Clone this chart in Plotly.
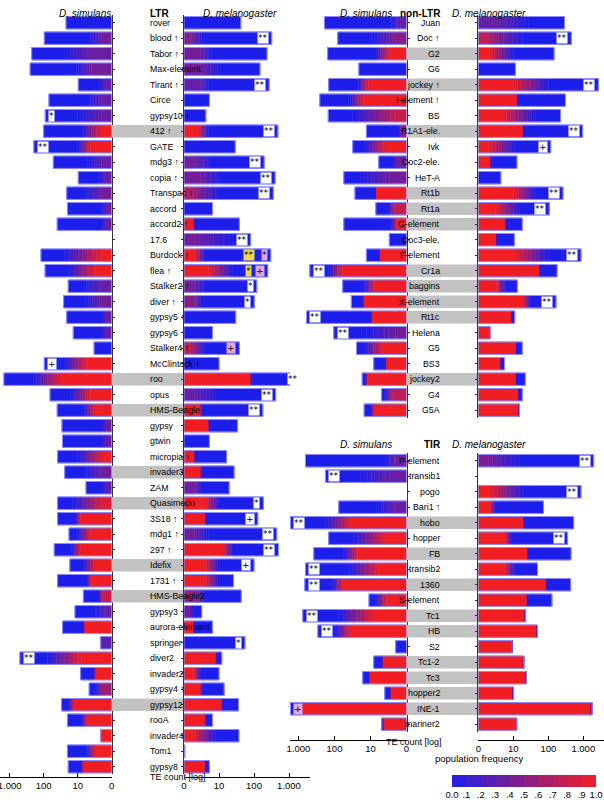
import math
import plotly.graph_objects as go

# ---------------- data ----------------
# each bar: (total count, colour frequency next to the axis, end of that colour, count where pure blue starts)
LTR_NAMES = ["rover","blood ↑","Tabor ↑","Max-element","Tirant ↑","Circe","gypsy10 ↑","412 ↑","GATE","mdg3 ↑",
             "copia ↑","Transpac ↑","accord","accord2 ↑","17.6","Burdock ↑","flea ↑","Stalker2 ↑","diver ↑","gypsy5 ↑",
             "gypsy6","Stalker4 ↑","McClintock ↑","roo","opus","HMS-Beagle","gypsy","gtwin","micropia ↑","invader3",
             "ZAM","Quasimodo","3S18 ↑","mdg1 ↑","297 ↑","Idefix","1731 ↑","HMS-Beagle2","gypsy3","aurora-element",
             "springer","diver2","invader2","gypsy4 ↑","gypsy12","rooA","invader4","Tom1","gypsy8"]
LTR_GRAY = ["412 ↑","roo","HMS-Beagle","invader3","Quasimodo","Idefix","HMS-Beagle2","gypsy12"]
LTR_SIM = [(22,0,1,1),(96,.4,2,4.6),(225,.35,5,25),(250,.4,4,11),(9.6,.35,1.5,2.5),(70,.35,2,4.6),(90,.35,2,10),
           (100,1,2,8),(194,1,4.3,10),(52,.35,2,5),(9.6,.35,1.5,2.5),(21,.4,2,6.5),(20,.4,1.3,2),(40,.4,1.3,2),
           (0,0,1,1),(120,1,2,25),(91,1,3,20),(19,.35,2,6.5),(26,.4,2,6.5),(21,.35,1.5,2),(13.5,.35,1.5,2),
           (3.3,0,1,1),(96,1,5.2,25),(1480,1,30,205),(65,1,4.3,16),(40,1,3.1,7),(29,.35,1.5,2),(28,.35,1.5,2),
           (39,1,1.8,10),(24,.4,2,6),(5.7,.3,1.5,2),(39,.9,2,14),(39,1,8.5,12),(18,1,4.3,10),(49,1,8.5,15),
           (17,1,3.1,7),(39,1,4.3,5.5),(6.8,.8,2,2.5),(12,.35,1.5,3),(28,1,6.5,7),(2.1,.3,2.1,2.1),(500,1,7.6,76),
           (8.2,1,3.1,3.5),(4.6,.6,2,3),(30,1,13,19),(20,1,5.2,8),(2.1,1,2.1,2.1),(20,1,3.1,5.5),(19,1,6.8,8.5)]
LTR_MEL = [(42,0,1,1),(320,.5,1.5,3.5),(235,.4,3,6),(148,.4,3,10.7),(270,.35,3,5),(5.3,0,1,1),(4.2,0,1,1),
           (480,1,2.5,4.9),(29,0,1,1),(195,.4,2,6.3),(400,.4,3,10.7),(355,.7,1.5,10),(6.5,0,1,1),(38,1,1.9,2.1),
           (80,.4,2,25),(300,1,2,4),(246,1,4.9,25),(120,.4,2,4),(102,.5,2,3.5),(30,0,1,1),(6.5,0,1,1),
           (38,.8,1.5,4),(10,0,1,1),(2300,1,77,90),(415,.35,2,10),(178,1,2.9,3.5),(34,1,4.9,5.5),(5.3,0,1,1),
           (16.5,1,1.9,2.2),(27,1,2.9,3.5),(19.5,.4,2,3.5),(185,1,4,10),(128,1,4,4.5),(445,.4,2,5),(500,1,13,25),
           (100,1,4,10),(26,1,4,10),(43,.6,2,4),(3.2,.35,1.5,2),(6.5,1,1.9,2),(55,0,1,1),(12,1,8.2,9),
           (10,1,1.9,3),(14,1,2.9,3.5),(36,1,12,13),(6.5,1,4,4.5),(37,1,1.8,8),(1.05,0,1,1),(5.3,1,4,4.3)]
LTR_SIM_MARK = {"gypsy10 ↑":[("*","w")],"GATE":[("**","w")],"McClintock ↑":[("+","w")],"diver2":[("**","w")]}
LTR_MEL_MARK = {"blood ↑":[("**","w")],"Tirant ↑":[("**","w")],"412 ↑":[("**","w")],"mdg3 ↑":[("**","w")],
                "copia ↑":[("**","w")],"Transpac ↑":[("**","w")],"17.6":[("**","w")],
                "Burdock ↑":[("*","p"),("**","y")],"flea ↑":[("+","p"),("*","y")],"Stalker2 ↑":[("*","w")],
                "diver ↑":[("*","w")],"Stalker4 ↑":[("+","p")],"roo":[("**","w")],"opus":[("**","w")],
                "HMS-Beagle":[("**","w")],"Quasimodo":[("*","w")],"3S18 ↑":[("+","w")],"mdg1 ↑":[("**","w")],
                "297 ↑":[("**","w")],"Idefix":[("+","w")],"springer":[("*","w")]}

NON_NAMES = ["Juan","Doc ↑","G2","G6","jockey ↑","I-element ↑","BS","R1A1-ele.","Ivk","Doc2-ele.","HeT-A","Rt1b",
             "Rt1a","G-element","Doc3-ele.","F-element","Cr1a","baggins","X-element","Rt1c","Helena","G5","BS3",
             "jockey2","G4","G5A"]
NON_GRAY = ["G2","jockey ↑","R1A1-ele.","Rt1b","Rt1a","G-element","Cr1a","baggins","X-element","Rt1c","jockey2"]
NON_SIM = [(190,.35,1.5,2.8),(81,.5,2,9.4),(155,1,2.8,8),(21,0,1,1),(145,1,11.6,23),(256,1,15.3,40),(149,.8,2,31),
           (13,.5,1.5,1.8),(31,1,3.7,15),(5.9,.35,2,2.5),(55,.4,3,19),(27,1,7.3,7.5),(7.1,.8,2,3.5),(55,1,1.8,2.8),
           (3,0,1,1),(13,1,5.6,6),(485,1,61,145),(59,1,7.7,15),(34,1,15.5,17),(600,1,9.4,10),(105,.4,2,13),
           (24.5,1,4.6,15),(8.1,1,3.7,4),(17,1,13,14),(4.9,.75,2.5,4),(15,1,8.1,10)]
NON_MEL = [(290,.35,4,27),(455,.8,1.5,18),(146,1,2.1,10),(11.5,0,1,1),(2700,1,10,100),(308,1,12.7,14),
           (224,1,4.8,43),(955,1,19,20),(117,1,2,11),(12.7,1,2.1,2.5),(4.4,0,1,1),(263,1,10,43),(107,1,3.1,15),
           (18,1,5.9,6.5),(10.7,1,3.3,3.5),(860,1,11,100),(178,1,56,60),(13,1,3.3,6),(166,1,19,31),(11,1,8.7,9.5),
           (2.2,1,2.2,2.2),(18,1,12.2,12.5),(5.6,1,4.4,4.6),(22,1,12.2,12.5),(18,1,14,15),(15,1,14.5,15)]
NON_SIM_MARK = {"Cr1a":[("**","w")],"Rt1c":[("**","w")],"Helena":[("**","w")]}
NON_MEL_MARK = {"Doc ↑":[("**","w")],"jockey ↑":[("**","w")],"R1A1-ele.":[("**","w")],"Ivk":[("+","w")],
                "Rt1b":[("**","w")],"Rt1a":[("**","w")],"F-element":[("**","w")],"X-element":[("**","w")]}

TIR_NAMES = ["P-element","transib1","pogo","Bari1 ↑","hobo","hopper","FB","transib2","1360","S-element","Tc1","HB",
             "S2","Tc1-2","Tc3","hopper2","INE-1","mariner2"]
TIR_GRAY = ["hobo","FB","1360","Tc1","HB","Tc1-2","Tc3","hopper2","INE-1"]
TIR_SIM = [(640,.4,2,3.8),(178,.35,3,19),(0,0,1,1),(76,.35,2,6.8),(1670,1,34,178),(145,1,3.8,30),(375,1,22.5,55),
           (640,1,5.6,40),(665,1,61,112),(11,1,3.6,7.3),(760,1,8.1,76),(290,1,36,94),(2,0,1,1),(8.1,1,4.6,5),
           (16.4,1,10.7,11.5),(4,1,2.8,3),(1670,1,870,1000),(4.9,1,4.2,4.9)]
TIR_MEL = [(1970,.45,2,15),(0,0,1,1),(860,1,2,20),(73,1,2.1,3.2),(530,1,20,21),(355,1,5.9,9),(445,1,25.6,27),
           (49,1,5.6,11),(435,1,86,95),(127,1,23.6,27),(22.5,1,21,22.5),(49,1,47,49),(9.2,1,9,9.2),(20,1,19,20),
           (23.6,1,23,23.6),(10.2,1,9.3,10.2),(1780,1,1600,1780),(12.7,1,12.7,12.7)]
TIR_SIM_MARK = {"transib1":[("**","w")],"hobo":[("**","w")],"transib2":[("**","w")],"1360":[("**","w")],
                "Tc1":[("**","w")],"HB":[("**","w")],"INE-1":[("+","p")]}
TIR_MEL_MARK = {"P-element":[("**","w")],"pogo":[("**","w")],"hopper":[("**","w")]}

TICK_VALS = [1, 10, 100, 1000]
TICK_TEXT = ["0", "10", "100", "1.000"]
FREQ_BINS = [0.05, 0.15, 0.25, 0.35, 0.45, 0.55, 0.65, 0.75, 0.85, 0.95]
FREQ_TICKS = [0, .1, .2, .3, .4, .5, .6, .7, .8, .9, 1.0]
FREQ_TEXT = ["0.0", ".1", ".2", ".3", ".4", ".5", ".6", ".7", ".8", ".9", "1.0"]

# ---------------- styling ----------------
W, H = 604, 800
BLUE = (30, 30, 235)
RED = (240, 30, 35)
FONT = "Liberation Sans"
MARK_BG = {"w": "white", "y": "#ecd84a", "p": "#e2a6e6"}
ROW = 15.5


def col(f):
    c = [round(BLUE[i] + f * (RED[i] - BLUE[i])) for i in range(3)]
    return "rgb(%d,%d,%d)" % tuple(c)


def segments(bars):
    ys, bases, lens, cols = [], [], [], []
    N = 8
    for i, (t, f0, r, g) in enumerate(bars):
        if t <= 1:
            continue
        pts = [(1.0, min(r, t), f0)]
        if g > r:
            for k in range(N):
                a = r * (g / r) ** (k / N)
                b = r * (g / r) ** ((k + 1) / N)
                pts.append((a, b, f0 * (1 - (k + 0.5) / N)))
        pts.append((g, t, 0.0))
        for a, b, f in pts:
            a, b = max(a, 1.0), min(b, t)
            if b > a:
                ys.append(i); bases.append(a); lens.append(b - a); cols.append(col(f))
    return ys, bases, lens, cols


fig = go.Figure()
layout = {}
annotations = []
ax_n = [0]


def new_axis():
    ax_n[0] += 1
    return ax_n[0]


def aname(kind, n):
    return kind + ("axis" if n == 1 else "axis%d" % n)


def ref(kind, n):
    return kind + ("" if n == 1 else str(n))


def panel(names, gray, sim, mel, sim_mark, mel_mark, first_px, sim_px, lab_px, mel_px,
          sim_dec, mel_dec, header, axis_px, count_label_px):
    n = len(names)
    top = first_px - ROW / 2
    bot = first_px + (n - 1) * ROW + ROW / 2
    ydom = [1 - bot / H, 1 - top / H]
    yr = [n - 0.5, -0.5]
    xs, xl, xm = new_axis(), new_axis(), new_axis()
    ys_, ym_ = xs, xm
    sim_range = [(sim_px[1] - sim_px[0]) / sim_dec, 0]
    mel_range = [0, (mel_px[1] - mel_px[0]) / mel_dec]
    show_ticks = axis_px is not None
    common_x = dict(type="log", showgrid=False, zeroline=False, fixedrange=True, automargin=False,
                    tickvals=TICK_VALS, ticktext=TICK_TEXT, showticklabels=show_ticks,
                    showline=show_ticks, linecolor="black", linewidth=1, ticklabeloverflow="allow",
                    ticks="inside" if show_ticks else "", ticklen=4, tickcolor="black",
                    tickfont=dict(family=FONT, size=9.5, color="black"))
    if show_ticks:
        common_x.update(anchor="free", position=1 - axis_px / H)
    layout[aname("x", xs)] = dict(common_x, domain=[sim_px[0] / W, sim_px[1] / W], range=sim_range,
                                  **({} if show_ticks else {"anchor": ref("y", ys_)}))
    layout[aname("x", xm)] = dict(common_x, domain=[mel_px[0] / W, mel_px[1] / W], range=mel_range,
                                  **({} if show_ticks else {"anchor": ref("y", ym_)}))
    layout[aname("x", xl)] = dict(domain=[lab_px[0] / W, lab_px[1] / W], range=[0, 1], visible=False,
                                  anchor=ref("y", ys_), fixedrange=True, automargin=False)
    common_y = dict(domain=ydom, range=yr, showgrid=False, zeroline=False, showticklabels=False,
                    showline=True, linecolor="#333", linewidth=1, ticks="outside", ticklen=2,
                    tickcolor="#333", tickvals=list(range(n)), fixedrange=True, automargin=False)
    layout[aname("y", ys_)] = dict(common_y, anchor=ref("x", xs), side="right")
    layout[aname("y", ym_)] = dict(common_y, anchor=ref("x", xm), side="left")

    gi = [i for i, nm in enumerate(names) if nm in gray]
    fig.add_trace(go.Bar(orientation="h", y=gi, x=[1] * len(gi), width=0.8, marker_color="#c2c2c2",
                         marker_line_width=0, xaxis=ref("x", xl), yaxis=ref("y", ys_), showlegend=False,
                         hoverinfo="skip"))
    for side, bars, xa, ya, marks in (("s", sim, xs, ys_, sim_mark), ("m", mel, xm, ym_, mel_mark)):
        yy, bb, ll, cc = segments(bars)
        fig.add_trace(go.Bar(orientation="h", y=yy, base=bb, x=ll, width=0.8,
                             marker=dict(color=cc, line=dict(color=cc, width=0.6)),
                             xaxis=ref("x", xa), yaxis=ref("y", ya),
                             showlegend=False, hoverinfo="skip"))
        oi = [i for i, b in enumerate(bars) if b[0] > 1]
        fig.add_trace(go.Bar(orientation="h", y=oi, base=[1] * len(oi), x=[bars[i][0] - 1 for i in oi],
                             width=0.8, marker=dict(color="rgba(0,0,0,0)", line=dict(color="#8c8cff", width=1)),
                             xaxis=ref("x", xa), yaxis=ref("y", ya), showlegend=False, hoverinfo="skip"))
        for i, nm in enumerate(names):
            if nm not in marks:
                continue
            shift = 3
            for txt, bg in marks[nm]:
                w = 14 if txt == "**" else 10
                annotations.append(dict(
                    x=math.log10(bars[i][0]), y=i, xref=ref("x", xa), yref=ref("y", ya), text=txt,
                    showarrow=False, xanchor="left" if side == "s" else "right",
                    xshift=shift if side == "s" else -shift, bgcolor=MARK_BG[bg], borderpad=0,
                    font=dict(family="DejaVu Sans", size=9, color="black"), height=10))
                shift += w + 3
    cx = (lab_px[0] + lab_px[1]) / 2 / W
    for i, nm in enumerate(names):
        annotations.append(dict(x=cx, y=i, xref="paper", yref=ref("y", ys_), text=nm, showarrow=False,
                                font=dict(family=FONT, size=8.8, color="black")))
    hy = 1 - (first_px - 16.5) / H
    for txt, xp in header:
        annotations.append(dict(x=xp / W, y=hy, xref="paper", yref="paper", text=txt, showarrow=False,
                                font=dict(family=FONT, size=10, color="black")))
    if count_label_px:
        annotations.append(dict(x=count_label_px[0] / W, y=1 - count_label_px[1] / H, xref="paper",
                                yref="paper", text="TE count [log]", showarrow=False,
                                font=dict(family=FONT, size=9, color="black")))


panel(LTR_NAMES, LTR_GRAY, LTR_SIM, LTR_MEL, LTR_SIM_MARK, LTR_MEL_MARK, 22.7,
      (0, 111.7), (111.7, 184), (184, 310), 34, 35,
      [("<i>D. simulans</i>", 57), ("<b>LTR</b>", 148), ("<i>D. melanogaster</i>", 240)],
      777, (148, 784))
panel(NON_NAMES, NON_GRAY, NON_SIM, NON_MEL, NON_SIM_MARK, NON_MEL_MARK, 22.7,
      (290, 406.5), (406.5, 478.3), (478.3, 604), 36, 35,
      [("<i>D. simulans</i>", 366), ("<b>non-LTR</b>", 443), ("<i>D. melanogaster</i>", 528)],
      None, None)
panel(TIR_NAMES, TIR_GRAY, TIR_SIM, TIR_MEL, TIR_SIM_MARK, TIR_MEL_MARK, 460.7,
      (290, 406.5), (406.5, 478.3), (478.3, 604), 36, 35,
      [("<i>D. simulans</i>", 366), ("<b>TIR</b>", 443), ("<i>D. melanogaster</i>", 528)],
      740, (444, 749))

annotations.append(dict(x=525 / W, y=1 - 766 / H, xref="paper", yref="paper", text="population frequency",
                        showarrow=False, font=dict(family=FONT, size=9.5, color="black")))

# colour key as a heatmap on its own axes
cb = new_axis()
layout[aname("x", cb)] = dict(domain=[452 / W, 596 / W], range=[0, 1], anchor=ref("y", cb), showgrid=False,
                              zeroline=False, showline=False, ticks="", tickvals=FREQ_TICKS, ticktext=FREQ_TEXT,
                              tickfont=dict(family=FONT, size=9.5, color="black"), fixedrange=True,
                              automargin=False, ticklabelstandoff=0, ticklabeloverflow="allow")
layout[aname("y", cb)] = dict(domain=[1 - 787 / H, 1 - 775 / H], range=[-0.5, 0.5], anchor=ref("x", cb),
                              visible=False, fixedrange=True, automargin=False)
fig.add_trace(go.Heatmap(z=[FREQ_BINS], x=FREQ_BINS, y=[0], xaxis=ref("x", cb), yaxis=ref("y", cb),
                         zmin=0, zmax=1, colorscale=[[0, col(0)], [1, col(1)]], showscale=False,
                         hoverinfo="skip"))

fig.update_layout(width=W, height=H, margin=dict(l=0, r=0, t=0, b=0, autoexpand=False), plot_bgcolor="white",
                  paper_bgcolor="white", barmode="overlay", annotations=annotations, **layout)
fig.write_html("out.html", config={"displayModeBar": False})

# remove the browser's default page margin so the figure sits at the window origin
with open("out.html", encoding="utf-8") as fh:
    page = fh.read()
page = page.replace("<head>", "<head><style>html,body{margin:0;padding:0;overflow:hidden}</style>", 1)
with open("out.html", "w", encoding="utf-8") as fh:
    fh.write(page)
